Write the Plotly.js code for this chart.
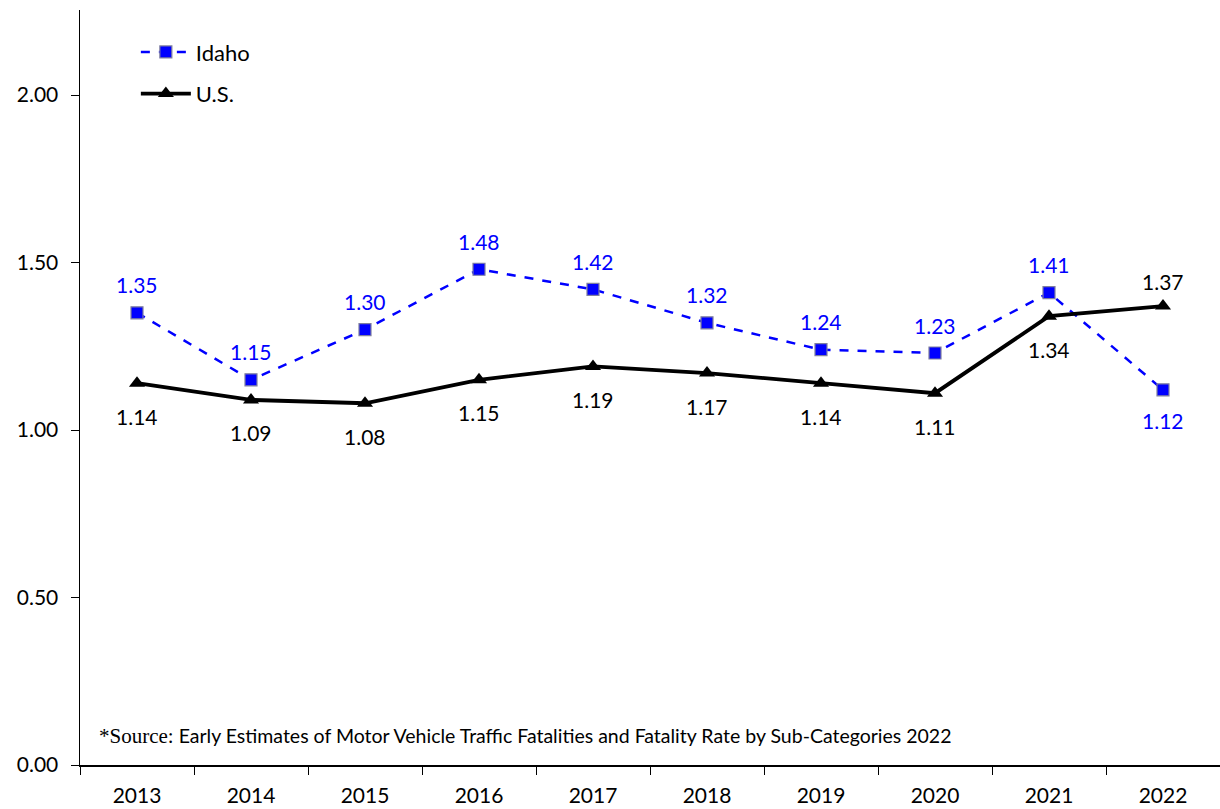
<!DOCTYPE html>
<html><head><meta charset="utf-8">
<script src="https://cdn.plot.ly/plotly-3.0.1.min.js"></script>
<style>html,body{margin:0;padding:0;background:#fff}#chart{width:1220px;height:809px}</style>
</head><body><div id="chart"></div>
<script>
const years = ['2013','2014','2015','2016','2017','2018','2019','2020','2021','2022'];
const idaho = [1.35,1.15,1.30,1.48,1.42,1.32,1.24,1.23,1.41,1.12];
const us = [1.14,1.09,1.08,1.15,1.19,1.17,1.14,1.11,1.34,1.37];
const yTicks = [0,0.5,1.0,1.5,2.0];
const sourceNote = ['*Source:', ' Early Estimates of Motor Vehicle Traffic Fatalities and Fatality Rate by Sub-Categories 2022'];

const FONT = 'Lato, "Open Sans", sans-serif';
const last = years.length - 1;

const traces = [
 {x: years, y: idaho, name: 'Idaho', legendgroup:'a', type:'scatter', mode:'lines+markers',
  line:{color:'#0000FF', width:2.5, dash:'dash'},
  marker:{symbol:'square', size:12, color:'#0000FF', line:{color:'#7F7F9F', width:1.2}},
  cliponaxis:false},
 {x: years, y: us, name: 'U.S.', legendgroup:'b', type:'scatter', mode:'lines+markers',
  line:{color:'#000000', width:3.8},
  marker:{symbol:'triangle-up', size:14, color:'#000000'},
  cliponaxis:false}
];

const labelAnn = [];
idaho.forEach((v,i)=>{
  labelAnn.push({x: i, y: v, xref:'x', yref:'y', text: v.toFixed(2), showarrow:false,
    yshift: i===last ? -31 : 28, font:{family:FONT, size:21, color:'#0000FF'}});
});
us.forEach((v,i)=>{
  labelAnn.push({x: i, y: v, xref:'x', yref:'y', text: v.toFixed(2), showarrow:false,
    yshift: i===last ? 25 : -33, font:{family:FONT, size:21, color:'#000000'}});
});

const layout = {
 width:1220, height:809,
 margin:{l:80, r:0, t:10, b:44},
 paper_bgcolor:'#fff', plot_bgcolor:'#fff',
 font:{family:FONT, size:21, color:'#000'},
 showlegend:true,
 legend:{x:0.049, y:0.972, xanchor:'left', yanchor:'top', bgcolor:'rgba(0,0,0,0)',
   font:{family:FONT, size:22, color:'#000'}, traceorder:'grouped', tracegroupgap:10, itemwidth:50},
 xaxis:{type:'category', range:[-0.5,9.5], showgrid:false, zeroline:false,
   showline:true, linecolor:'#000', linewidth:1.5,
   ticks:'outside', ticklen:8, tickcolor:'#000', tickson:'boundaries', ticklabelstandoff:11,
   tickfont:{family:FONT, size:21, color:'#000'}},
 yaxis:{range:[0,2.254], tickvals:yTicks, ticktext:yTicks.map(v=>v.toFixed(2)),
   showgrid:false, zeroline:false, showline:true, linecolor:'#000', linewidth:1.5,
   ticks:'outside', ticklen:8, tickcolor:'#000', ticklabelstandoff:8,
   tickfont:{family:FONT, size:21, color:'#000'}},
 annotations: labelAnn.concat([{xref:'paper', yref:'y', x:0.015, y:0.087, xanchor:'left', yanchor:'middle', showarrow:false,
   text:'<span style="font-family:\'Liberation Serif\',serif;font-size:21px">'+sourceNote[0]+'</span><span style="font-size:19.5px">'+sourceNote[1]+'</span>',
   font:{family:FONT, size:19.5, color:'#000'}}])
};
Plotly.newPlot('chart', traces, layout, {displayModeBar:false, staticPlot:true});
</script></body></html>
